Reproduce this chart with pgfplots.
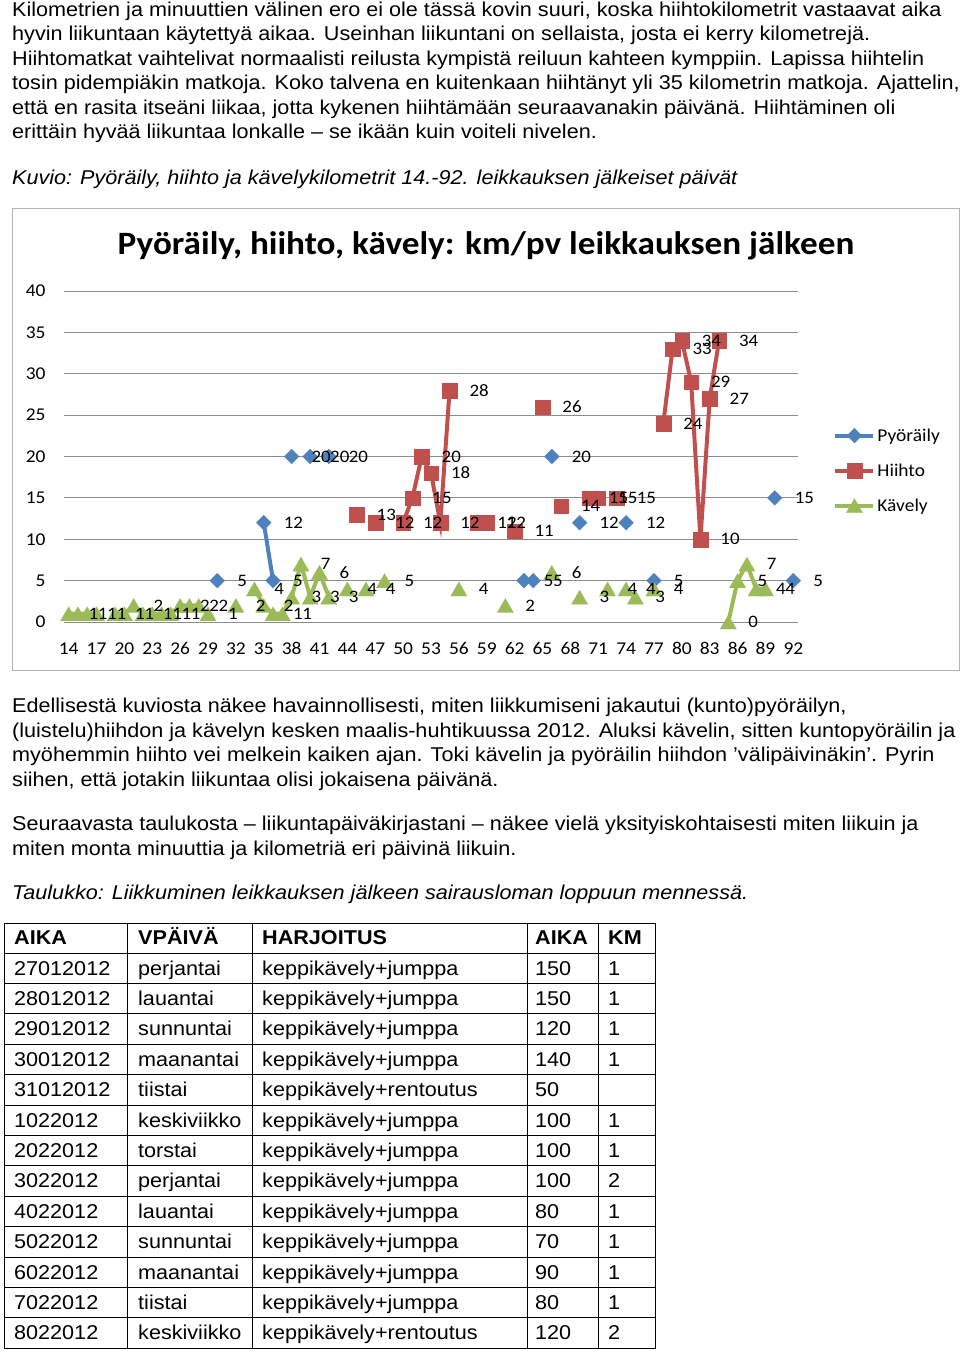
\documentclass[border=0pt]{standalone}
\usepackage{pgfplots}
\usepackage{pgfplotstable}
\pgfplotsset{compat=1.18}
\usepackage{fontspec}
\setmainfont{Liberation Sans}[FakeStretch=1.08]
\newfontfamily\chartfont{Carlito}[FakeStretch=1.08]

\definecolor{pblue}{HTML}{4F81BD}
\definecolor{pred}{HTML}{C0504D}
\definecolor{pgreen}{HTML}{9BBB59}
\definecolor{gridgray}{HTML}{8C8C8C}

\newcommand{\body}{\fontsize{20}{24}\selectfont}
\newcommand{\lbl}{\chartfont\fontsize{17.5}{18}\selectfont}

% day / km (nan = no entry that day)
\pgfplotstableread{
x y
30 5
31 nan
35 12
36 5
37 nan
38 20
39 nan
40 20
41 nan
42 20
43 nan
63 5
64 5
65 nan
66 20
67 nan
69 12
70 nan
74 12
75 nan
77 5
78 nan
90 15
91 nan
92 5
}\pyoraily

\pgfplotstableread{
x y
45 13
46 nan
47 12
48 nan
50 12
51 15
52 20
53 18
54 12
55 28
56 nan
58 12
59 12
60 nan
62 11
63 nan
65 26
66 nan
67 14
68 nan
70 15
71 15
72 nan
73 15
74 nan
78 24
79 33
80 34
81 29
82 10
83 27
84 34
}\hiihto

\pgfplotstableread{
x y
14 1
15 1
16 1
17 1
18 nan
19 1
20 1
21 2
22 1
23 1
24 1
25 1
26 2
27 2
28 2
29 1
30 nan
32 2
33 nan
34 4
35 2
36 1
37 1
38 3
39 7
40 3
41 6
42 3
43 nan
44 4
45 nan
46 4
47 nan
48 5
49 nan
56 4
57 nan
61 2
62 nan
66 6
67 nan
69 3
70 nan
72 4
73 nan
74 4
75 3
76 nan
77 4
78 nan
85 0
86 5
87 7
88 4
89 4
}\kavely

\begin{document}
\begin{tikzpicture}
\useasboundingbox (0pt,0pt) rectangle (960pt,-1352pt);

\begin{scope}[x=1pt, y=-1pt, every node/.style={anchor=base west, inner sep=0pt, font=\body}]
% text above the chart
\node at (12,16) {Kilometrien ja minuuttien välinen ero ei ole tässä kovin suuri, koska hiihtokilometrit vastaavat aika};
\node at (12,40) {hyvin liikuntaan käytettyä aikaa. Useinhan liikuntani on sellaista, josta ei kerry kilometrejä.};
\node at (12,65) {Hiihtomatkat vaihtelivat normaalisti reilusta kympistä reiluun kahteen kymppiin. Lapissa hiihtelin};
\node at (12,89) {tosin pidempiäkin matkoja. Koko talvena en kuitenkaan hiihtänyt yli 35 kilometrin matkoja. Ajattelin,};
\node at (12,114) {että en rasita itseäni liikaa, jotta kykenen hiihtämään seuraavanakin päivänä. Hiihtäminen oli};
\node at (12,138) {erittäin hyvää liikuntaa lonkalle – se ikään kuin voiteli nivelen.};
\node[font=\body\itshape] at (12,184) {Kuvio: Pyöräily, hiihto ja kävelykilometrit 14.-92. leikkauksen jälkeiset päivät};

% chart frame and title
\draw[gray!60, line width=1pt] (12,208) rectangle (959,670);
\node[anchor=center, font=\chartfont\bfseries\fontsize{32.6}{36}\selectfont] at (486,246) {Pyöräily, hiihto, kävely: km/pv leikkauksen jälkeen};

% text below the chart
\node at (12,712) {Edellisestä kuviosta näkee havainnollisesti, miten liikkumiseni jakautui (kunto)pyöräilyn,};
\node at (12,737) {(luistelu)hiihdon ja kävelyn kesken maalis-huhtikuussa 2012. Aluksi kävelin, sitten kuntopyöräilin ja};
\node at (12,761) {myöhemmin hiihto vei melkein kaiken ajan. Toki kävelin ja pyöräilin hiihdon ’välipäivinäkin’. Pyrin};
\node at (12,786) {siihen, että jotakin liikuntaa olisi jokaisena päivänä.};
\node at (12,830) {Seuraavasta taulukosta – liikuntapäiväkirjastani – näkee vielä yksityiskohtaisesti miten liikuin ja};
\node at (12,855) {miten monta minuuttia ja kilometriä eri päivinä liikuin.};
\node[font=\body\itshape] at (12,899) {Taulukko: Liikkuminen leikkauksen jälkeen sairausloman loppuun mennessä.};

% table
\foreach \x in {4,127,252,527,598,655} \draw[line width=0.8pt] (\x,923) -- (\x,1349);
\draw[line width=0.8pt] (4,923) -- (655,923);
\foreach \k in {0,...,13} \draw[line width=0.8pt] (4,{953+30.4*\k}) -- (655,{953+30.4*\k});
\node[font=\body\bfseries] at (14,944) {AIKA};
\node[font=\body\bfseries] at (138,944) {VPÄIVÄ};
\node[font=\body\bfseries] at (262,944) {HARJOITUS};
\node[font=\body\bfseries] at (535,944) {AIKA};
\node[font=\body\bfseries] at (608,944) {KM};
\foreach \a/\b/\c/\d/\e [count=\i from 0] in {
  27012012/perjantai/keppikävely+jumppa/150/1,
  28012012/lauantai/keppikävely+jumppa/150/1,
  29012012/sunnuntai/keppikävely+jumppa/120/1,
  30012012/maanantai/keppikävely+jumppa/140/1,
  31012012/tiistai/keppikävely+rentoutus/50/{},
  1022012/keskiviikko/keppikävely+jumppa/100/1,
  2022012/torstai/keppikävely+jumppa/100/1,
  3022012/perjantai/keppikävely+jumppa/100/2,
  4022012/lauantai/keppikävely+jumppa/80/1,
  5022012/sunnuntai/keppikävely+jumppa/70/1,
  6022012/maanantai/keppikävely+jumppa/90/1,
  7022012/tiistai/keppikävely+jumppa/80/1,
  8022012/keskiviikko/keppikävely+rentoutus/120/2}{
  \node at (14,{975+30.4*\i}) {\a};
  \node at (138,{975+30.4*\i}) {\b};
  \node at (262,{975+30.4*\i}) {\c};
  \node at (535,{975+30.4*\i}) {\d};
  \node at (608,{975+30.4*\i}) {\e};
}
\end{scope}

\begin{axis}[
  at={(64pt,-622pt)}, anchor=south west,
  scale only axis, width=734pt, height=331pt,
  xmin=13.5, xmax=92.5, ymin=0, ymax=40,
  xtick={14,17,...,92}, ytick={0,5,...,40},
  ymajorgrids, grid style={gridgray, line width=1pt},
  axis line style={draw=none}, major tick length=0pt,
  tick label style={font=\chartfont\fontsize{18}{18}\selectfont},
  xticklabel style={yshift=-17pt},
  yticklabel style={xshift=-15pt},
  /pgf/number format/assume math mode=true,
  clip=false,
  unbounded coords=jump,
  every axis plot/.append style={line width=4pt},
  labels/.style={draw=none, mark=none, forget plot, nodes near coords,
    nodes near coords style={anchor=west, xshift=18pt, font=\lbl, text=black, inner sep=0pt}},
  legend style={at={(1.048,0.591)}, anchor=north west, draw=none, fill=none,
    font=\chartfont\fontsize{18}{18}\selectfont, row sep=17pt, inner sep=0pt},
  legend cell align=left,
  legend image code/.code={\draw[mark repeat=2, mark phase=2, #1] plot coordinates {(0pt,0pt) (19pt,0pt) (38pt,0pt)};},
]
\addplot[pblue, mark=square*, mark size=5.3pt, mark options={rotate=45, line width=0.1pt}] table {\pyoraily};
\addlegendentry{Pyöräily}
\addplot[pred, mark=square*, mark size=7.3pt, mark options={line width=0.1pt}] table {\hiihto};
\addlegendentry{Hiihto}
\addplot[pgreen, mark=triangle*, mark size=9.5pt, mark options={line width=0.1pt, yshift=-2.4pt}] table {\kavely};
\addlegendentry{Kävely}
% data labels on top of all series
\addplot[labels] table {\pyoraily};
\addplot[labels] table {\hiihto};
\addplot[labels] table {\kavely};
\end{axis}
\end{tikzpicture}
\end{document}
